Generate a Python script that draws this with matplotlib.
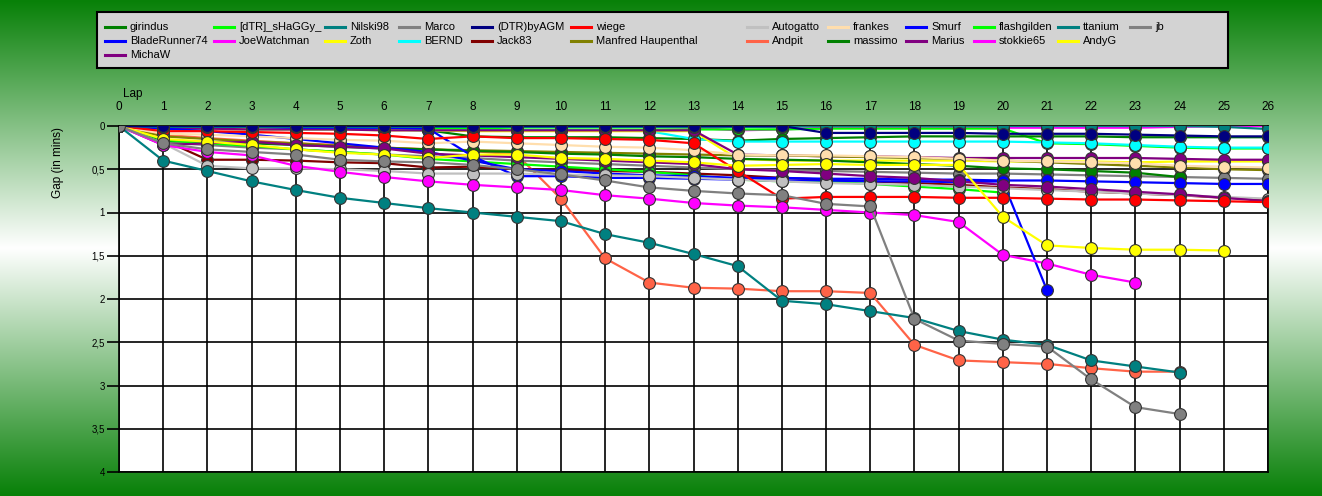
""" Race gap chart per lap """
import numpy as np
import matplotlib
matplotlib.use("Agg")
import matplotlib.pyplot as plt
from matplotlib.lines import Line2D
from matplotlib.patches import Rectangle

plt.rcParams['font.family'] = ['Liberation Sans', 'DejaVu Sans']

laps = list(range(27))

# gap to leader in minutes, one list per driver (shorter list = retired)
girindus = [0, 0.02, 0.02, 0.03, 0.03, 0.03, 0.04, 0.05, 0.12, 0.13, 0.13, 0.13, 0.14, 0.15, 0.17,
            0.15, 0.14, 0.13, 0.12, 0.12, 0.12, 0.12, 0.12, 0.13, 0.13, 0.13, 0.13]
shaggy = [0, 0.16, 0.2, 0.23, 0.27, 0.3, 0.33, 0.38, 0.41, 0.44, 0.47, 0.5, 0.53, 0.57, 0.62,
          0.64, 0.64, 0.67, 0.7, 0.73, 0.77]
nilski98 = [0, 0.40, 0.52, 0.64, 0.74, 0.83, 0.89, 0.95, 1.0, 1.05, 1.10, 1.25, 1.35, 1.48, 1.62,
            2.02, 2.06, 2.14, 2.22, 2.37, 2.47, 2.53, 2.71, 2.78, 2.85]
marco = [0, 0.2, 0.27, 0.3, 0.33, 0.39, 0.41, 0.42, 0.45, 0.5, 0.56, 0.63, 0.71, 0.75, 0.78,
         0.8, 0.9, 0.93, 2.23, 2.48, 2.52, 2.55, 2.93, 3.25, 3.33]
dtr_agm = [0, 0, 0, 0, 0, 0, 0, 0, 0, 0, 0, 0, 0, 0, 0, 0, 0.08, 0.08, 0.08, 0.08, 0.09,
           0.09, 0.09, 0.1, 0.11, 0.12, 0.12]
wiege = [0, 0.06, 0.06, 0.07, 0.08, 0.09, 0.11, 0.15, 0.12, 0.14, 0.14, 0.15, 0.16, 0.2, 0.52,
         0.84, 0.82, 0.82, 0.82, 0.83, 0.83, 0.84, 0.85, 0.85, 0.86, 0.87, 0.88]
autogatto = [0, 0.2, 0.46, 0.49, 0.49, 0.5, 0.52, 0.55, 0.55, 0.55, 0.56, 0.57, 0.58, 0.6, 0.62,
             0.64, 0.66, 0.67, 0.68, 0.7, 0.72, 0.74, 0.76, 0.78, 0.8, 0.82, 0.84]
frankes = [0, 0.09, 0.1, 0.12, 0.14, 0.16, 0.17, 0.2, 0.18, 0.2, 0.22, 0.24, 0.25, 0.28, 0.33,
           0.34, 0.34, 0.35, 0.36, 0.38, 0.4, 0.41, 0.42, 0.43, 0.46, 0.47, 0.48]
smurf = [0, 0.01, 0.01, 0.01, 0.02, 0.02, 0.02, 0.03, 0.35, 0.58, 0.58, 0.6, 0.6, 0.61, 0.62,
         0.63, 0.63, 0.64, 0.64, 0.65, 0.64, 1.9]
flashgilden = [0, 0.02, 0.02, 0.02, 0.02, 0.03, 0.03, 0.03, 0.03, 0.04, 0.04, 0.04, 0.04, 0.04,
               0.04, 0.04, 0.03, 0.03, 0.03, 0.03, 0.03, 0.2, 0.21, 0.23, 0.25, 0.26, 0.26]
ttanium = [0, 0.01, 0.01, 0.01, 0.01, 0.01, 0.01, 0.01, 0.01, 0.01, 0.01, 0.01, 0.01, 0.01, 0.01,
           0.01, 0, 0, 0, 0, 0, 0, 0, 0, 0, 0.01, 0.035]
jb = [0, 0.19, 0.22, 0.25, 0.27, 0.3, 0.33, 0.35, 0.37, 0.4, 0.42, 0.44, 0.46, 0.48, 0.5,
      0.51, 0.52, 0.53, 0.54, 0.55, 0.55, 0.56, 0.57, 0.58, 0.59, 0.6, 0.61]
bladerunner74 = [0, 0.03, 0.06, 0.1, 0.15, 0.2, 0.25, 0.3, 0.4, 0.5, 0.52, 0.55, 0.57, 0.58, 0.6,
                 0.6, 0.61, 0.61, 0.62, 0.62, 0.63, 0.63, 0.64, 0.65, 0.66, 0.67, 0.67]
joewatchman = [0, 0.22, 0.3, 0.34, 0.46, 0.53, 0.59, 0.64, 0.68, 0.71, 0.74, 0.8, 0.84, 0.89, 0.92,
               0.94, 0.97, 1.0, 1.03, 1.11, 1.49, 1.59, 1.72, 1.81]
zoth = [0, 0.03, 0.03, 0.04, 0.04, 0.04, 0.05, 0.05, 0.06, 0.06, 0.06, 0.06, 0.06, 0.06, 0.38,
        0.4, 0.4, 0.4, 0.4, 0.4, 0.41, 0.41, 0.41, 0.42, 0.41, 0.41, 0.41]
bernd = [0, 0.03, 0.03, 0.04, 0.04, 0.04, 0.04, 0.05, 0.05, 0.05, 0.05, 0.05, 0.06, 0.15, 0.18,
         0.18, 0.18, 0.18, 0.18, 0.18, 0.18, 0.19, 0.2, 0.22, 0.24, 0.25, 0.25]
jack83 = [0, 0.16, 0.39, 0.39, 0.4, 0.42, 0.43, 0.48, 0.47, 0.5, 0.51, 0.52, 0.53, 0.55, 0.57,
          0.6, 0.62, 0.64, 0.66, 0.68, 0.71, 0.73, 0.76, 0.78, 0.8, 0.83, 0.85]
manfred = [0, 0.12, 0.15, 0.18, 0.2, 0.23, 0.25, 0.27, 0.28, 0.29, 0.3, 0.31, 0.32, 0.33, 0.34,
           0.34, 0.35, 0.36, 0.37, 0.38, 0.4, 0.42, 0.44, 0.46, 0.48, 0.5, 0.51]
andpit = [0, 0.1, 0.14, 0.17, 0.2, 0.22, 0.25, 0.27, 0.29, 0.33, 0.84, 1.53, 1.81, 1.87, 1.88,
          1.91, 1.91, 1.93, 2.53, 2.71, 2.73, 2.75, 2.8, 2.84, 2.84]
massimo = [0, 0.17, 0.19, 0.2, 0.22, 0.24, 0.26, 0.27, 0.29, 0.3, 0.32, 0.33, 0.35, 0.36, 0.38,
           0.39, 0.4, 0.42, 0.44, 0.46, 0.49, 0.5, 0.52, 0.54, 0.59]
marius = [0, 0.03, 0.03, 0.04, 0.04, 0.04, 0.05, 0.05, 0.05, 0.05, 0.05, 0.05, 0.05, 0.05, 0.33,
          0.34, 0.35, 0.35, 0.36, 0.37, 0.37, 0.37, 0.37, 0.37, 0.38, 0.39, 0.39]
stokkie65 = [0, 0.01, 0.01, 0.01, 0.01, 0.01, 0.01, 0.01, 0.01, 0.01, 0.01, 0.01, 0.01, 0.02, 0.05,
             0.04, 0.02, 0.02, 0.02, 0.02, 0.02, 0.02, 0.02, 0.02, 0.01, 0.0, 0.0]
andyg = [0, 0.15, 0.18, 0.22, 0.27, 0.31, 0.33, 0.37, 0.33, 0.33, 0.37, 0.38, 0.4, 0.42, 0.46,
         0.45, 0.44, 0.45, 0.45, 0.45, 1.05, 1.38, 1.41, 1.43, 1.43, 1.44]
michaw = [0, 0.22, 0.2, 0.18, 0.22, 0.24, 0.26, 0.32, 0.34, 0.36, 0.38, 0.4, 0.42, 0.44, 0.5,
          0.52, 0.55, 0.58, 0.6, 0.64, 0.68, 0.7, 0.73, 0.76, 0.79, 0.83, 0.87]

names = ["girindus", "[dTR]_sHaGGy_", "Nilski98", "Marco", "(DTR)byAGM", "wiege", "Autogatto",
         "frankes", "Smurf", "flashgilden", "ttanium", "jb", "BladeRunner74", "JoeWatchman",
         "Zoth", "BERND", "Jack83", "Manfred Haupenthal", "Andpit", "massimo", "Marius",
         "stokkie65", "AndyG", "MichaW"]
series = [girindus, shaggy, nilski98, marco, dtr_agm, wiege, autogatto, frankes, smurf,
          flashgilden, ttanium, jb, bladerunner74, joewatchman, zoth, bernd, jack83, manfred,
          andpit, massimo, marius, stokkie65, andyg, michaw]
colors = ["#008000", "#00ff00", "#008080", "#808080", "#000080", "#ff0000", "#c0c0c0",
          "#ffdead", "#0000ff", "#00ff00", "#008080", "#808080", "#0000ff", "#ff00ff",
          "#ffff00", "#00ffff", "#800000", "#808000", "#ff6347", "#008000", "#800080",
          "#ff00ff", "#ffff00", "#800080"]
# which driver gets painted first (bottom) ... last (top)
draw_order = ["Andpit", "stokkie65", "flashgilden", "girindus", "BERND", "Zoth", "Marius",
              "Jack83", "Manfred Haupenthal", "jb", "massimo", "[dTR]_sHaGGy_", "BladeRunner74",
              "Smurf", "frankes", "Autogatto", "MichaW", "wiege", "AndyG", "JoeWatchman",
              "Nilski98", "ttanium", "(DTR)byAGM", "Marco"]

W, H = 1322, 496
fig = plt.figure(figsize=(W / 100, H / 100), dpi=100)

# green - white - green background
bg = fig.add_axes([0, 0, 1, 1], zorder=0)
t = np.linspace(0, 1, H)
w = 1 - np.abs(2 * t - 1)
dark = np.array([8, 128, 8]) / 255
grad = dark[None, :] + w[:, None] * (1 - dark[None, :])
bg.imshow(grad[:, None, :], aspect='auto', extent=[0, 1, 0, 1])
bg.axis('off')

ax = fig.add_axes([119 / W, 1 - 472 / H, (1268 - 119) / W, (472 - 126) / H], zorder=2)
ax.set_facecolor("white")

for nm in draw_order:
    i = names.index(nm)
    vals = series[i]
    ax.plot(laps[:len(vals)], vals, color=colors[i], lw=1.6, marker='o', ms=8.5,
            mec='#333333', mew=0.8, zorder=3)

ax.set_xlim(0, 26)
ax.set_ylim(4, 0)
ax.xaxis.tick_top()
ax.set_xticks(laps)
ax.tick_params(axis='x', length=0, pad=9, labelsize=8.5)
yt = np.arange(0, 4.01, 0.5)
ax.set_yticks(yt)
ax.set_yticklabels([f"{v:g}".replace('.', ',') for v in yt])
ax.tick_params(axis='y', length=9, width=1.2, pad=1, labelsize=7)
ax.grid(True, color='black', linewidth=1.2)
ax.set_axisbelow(True)
for s in ax.spines.values():
    s.set_linewidth(1.2)

fig.text(123 / W, 1 - 94 / H, "Lap", fontsize=8.5, va='center', ha='left')
fig.text(58 / W, 1 - 162 / H, "Gap (in mins)", fontsize=8.5, rotation=90, va='center', ha='center')

# legend box, 12 columns x 3 rows, laid out like the original control
fig.add_artist(Rectangle((97 / W, 1 - 68 / H), 1131 / W, 56 / H, transform=fig.transFigure,
                         facecolor="#d3d3d3", edgecolor="black", linewidth=1.5, zorder=1))
col_x = [105, 214, 325, 399, 472, 571, 747, 828, 906, 974, 1058, 1130]
row_y = [27, 41, 55]
for k, nm in enumerate(names):
    if k < 12:
        r, c = 0, k
    elif k < 23:
        r, c = 1, k - 12
    else:
        r, c = 2, 0
    x0, y0 = col_x[c] / W, 1 - row_y[r] / H
    fig.add_artist(Line2D([x0, x0 + 20 / W], [y0, y0], color=colors[k], lw=2.2,
                          transform=fig.transFigure, zorder=3))
    fig.text(x0 + 25 / W, y0, nm, fontsize=8.0, va='center', ha='left', zorder=3)

fig.savefig("out.png", dpi=100)
